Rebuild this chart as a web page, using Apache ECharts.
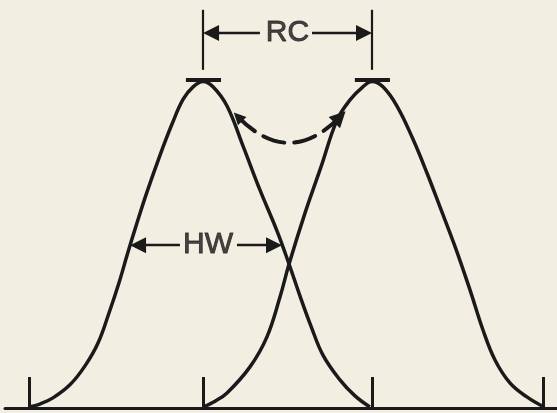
<!DOCTYPE html>
<html><head><meta charset="utf-8">
<script src="https://cdn.jsdelivr.net/npm/echarts@6/dist/echarts.min.js"></script>
<style>html,body{margin:0;padding:0;background:#f3eee2}#c{width:557px;height:413px}</style>
</head><body><div id="c"></div>
<script>
// ---- data (x: retention units, y: relative response, peak = 100) ----
const tickX = [0, 10.16, 20.02, 30];
const peakX = [10.16, 20.02];
const peakY = 100;
const leftX  = [0, 0.64, 1.40, 2.39, 3.27, 4.03, 4.67, 5.25, 5.78, 6.25, 6.89, 7.65, 8.35, 9.00, 9.58, 10.16, 10.74, 11.56, 12.49, 13.48, 14.48, 15.18, 15.82, 16.46, 17.16, 18.15, 19.03, 19.90];
const leftY  = [0.3, 1.2, 3.1, 7.1, 12.9, 19.9, 29.1, 38.3, 47.8, 55.8, 66.2, 77.5, 87.0, 94.6, 98.4, 100, 98.4, 92.5, 80.3, 66.8, 54.2, 44.1, 34.3, 25.1, 16.2, 8.6, 3.7, 0.3];
const rightX = [10.16, 10.86, 11.56, 12.90, 13.89, 14.65, 15.18, 16.11, 17.04, 17.98, 18.74, 19.49, 20.02, 20.66, 21.48, 22.41, 23.23, 23.99, 24.86, 25.74, 26.50, 27.20, 28.07, 29.06, 30.06];
const rightY = [0.3, 2.1, 4.6, 12.6, 21.8, 34.0, 44.1, 59.7, 73.8, 88.2, 94.4, 98.4, 100, 98.4, 92.5, 82.4, 72.0, 61.6, 49.6, 36.2, 23.9, 14.7, 7.7, 3.4, 0.3];
const labels = ['RC', 'HW'];
const hwY = 49.9;            // half-height level of the HW arrow
const hwLeftX = 5.90;        // left flank at half height
const hwRightX = 14.77;      // right arrow tip (near crossing)
const dashEnds = [[12.2, 89.2], [18.15, 89.2]];

// ---- layout / style ----
const W = 557, H = 413;
const GRID = {left: 5, right: 0, top: 0, bottom: 5};
const X_MIN = -1.4, X_MAX = 30.82, Y_MIN = 0, Y_MAX = 125;
const pxX = (W - GRID.left - GRID.right) / (X_MAX - X_MIN);
const INK = '#1a1a1a';
const ARROW = [11, 16];
const ax = ARROW[1] / 2 / pxX;   // shift so the arrow tip lands on the target

const pairs = (xs, ys) => xs.map((x, i) => [x, ys[i]]);
const rcY = 114.9;
const rcTop = 122, rcBot = 103.6;
const rcTextX = (peakX[0] + peakX[1]) / 2;
const hwTextX = 10.45;

const seg = (a, b) => ({coords: [a, b]});
const FONT = 'Liberation Sans, Arial, Helvetica, sans-serif';

const option = {
  animation: false,
  backgroundColor: '#f3eee2',
  grid: GRID,
  xAxis: {type: 'value', min: X_MIN, max: X_MAX, splitLine: {show: false},
    axisTick: {show: false}, axisLabel: {show: false},
    axisLine: {show: true, onZero: false, lineStyle: {color: INK, width: 3}}},
  yAxis: {type: 'value', min: Y_MIN, max: Y_MAX, show: false, splitLine: {show: false}},
  series: [
    {type: 'line', data: pairs(leftX, leftY), smooth: 0.4, symbol: 'none',
      lineStyle: {color: INK, width: 3.5}},
    {type: 'line', data: pairs(rightX, rightY), smooth: 0.4, symbol: 'none',
      lineStyle: {color: INK, width: 3.5}},
    // baseline ticks
    {type: 'lines', coordinateSystem: 'cartesian2d', symbol: 'none',
      lineStyle: {color: INK, width: 3, opacity: 1},
      data: tickX.map(x => seg([x, 0], [x, 9.5]))},
    // peak caps
    {type: 'lines', coordinateSystem: 'cartesian2d', symbol: 'none',
      lineStyle: {color: INK, width: 4, opacity: 1},
      data: peakX.map(x => seg([x - 1.0, peakY + 0.6], [x + 1.05, peakY + 0.6]))},
    // RC vertical markers
    {type: 'lines', coordinateSystem: 'cartesian2d', symbol: 'none',
      lineStyle: {color: INK, width: 2.2, opacity: 1},
      data: peakX.map(x => seg([x, rcBot], [x, rcTop]))},
    // arrows RC and HW
    {type: 'lines', coordinateSystem: 'cartesian2d', symbol: ['none', 'triangle'], symbolSize: ARROW,
      lineStyle: {color: INK, width: 2.4, opacity: 1}, itemStyle: {color: INK},
      data: [
        seg([13.48, rcY], [peakX[0] + ax, rcY]),
        seg([16.52, rcY], [peakX[1] - ax, rcY]),
        seg([8.81, hwY], [hwLeftX + ax, hwY]),
        seg([12.14, hwY], [hwRightX - ax, hwY])
      ]},
    // dashed curved arrow between the peaks
    {type: 'lines', coordinateSystem: 'cartesian2d', symbol: ['triangle', 'triangle'], symbolSize: [12, 16],
      lineStyle: {color: INK, width: 4, opacity: 1, type: [22, 10], curveness: -0.51, cap: 'round'},
      itemStyle: {color: INK},
      data: [seg(dashEnds[0], dashEnds[1])]},
    // text labels
    {type: 'scatter', symbolSize: 0, silent: true,
      data: [{name: labels[0], value: [rcTextX, rcY]}, {name: labels[1], value: [hwTextX, hwY]}],
      label: {show: true, position: 'inside', formatter: p => p.name, color: INK,
        fontSize: 30, fontFamily: FONT, textBorderColor: INK, textBorderWidth: 0.9}}
  ]
};
const chart = echarts.init(document.getElementById('c'), null, {renderer: 'canvas'});
chart.setOption(option);
</script></body></html>
